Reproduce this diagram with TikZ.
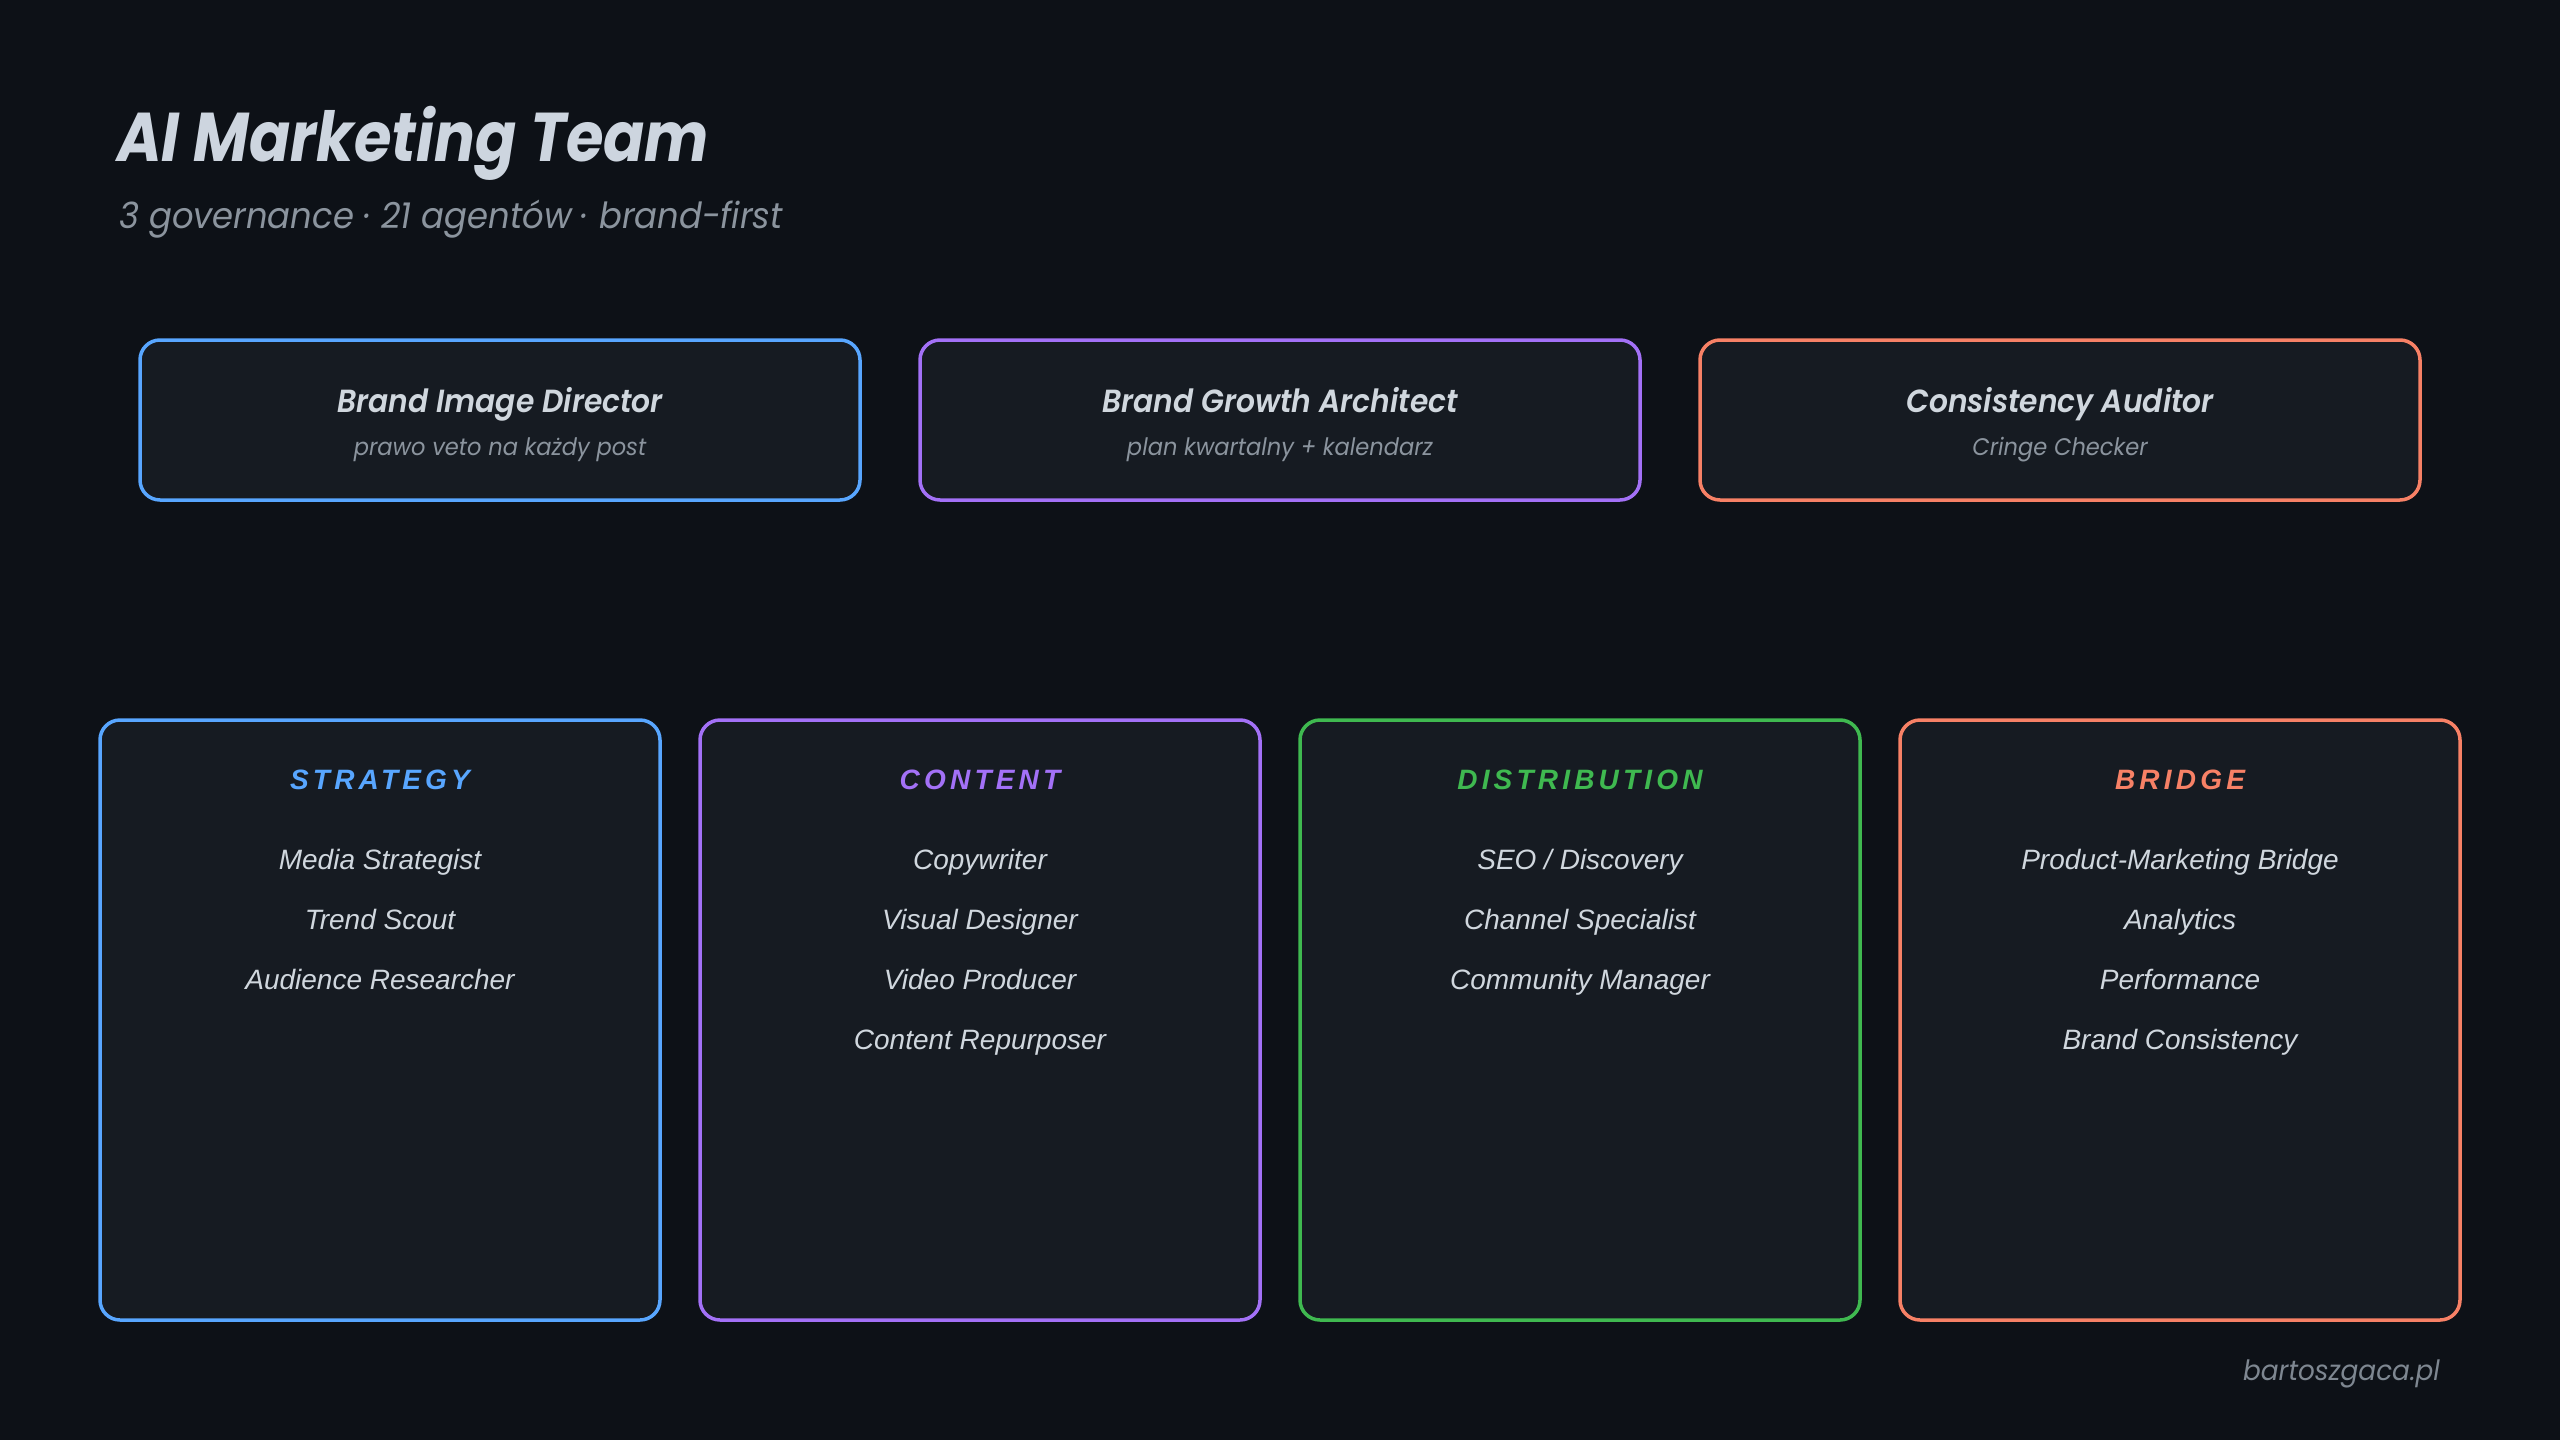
\documentclass[tikz,border=0pt]{standalone}
\usepackage{fontspec}
\setmainfont{Liberation Sans}
\newfontfamily\pop{Poppins}
\newfontfamily\poptitle{Poppins}[FakeStretch=0.88]
\newfontfamily\popsub{Poppins}[FakeStretch=0.94]
\newfontfamily\popsemi{Poppins}[UprightFont={* SemiBold},ItalicFont={* SemiBold Italic},FakeStretch=0.93]
\newfontfamily\spaced{Liberation Sans}[LetterSpace=15]
\definecolor{bg}{HTML}{0D1117}
\definecolor{boxc}{HTML}{161B22}
\definecolor{cblue}{HTML}{58A6FF}
\definecolor{cpurple}{HTML}{A371F7}
\definecolor{cgreen}{HTML}{3FB950}
\definecolor{corange}{HTML}{F78166}
\definecolor{titlec}{HTML}{CDD5DF}
\definecolor{lightc}{HTML}{D0D7DE}
\definecolor{grayc}{HTML}{8B949E}
\tikzset{
  gov/.style={draw=#1, line width=3.5pt, rounded corners=20pt, fill=boxc, minimum width=720pt, minimum height=160pt, inner sep=0pt},
  team/.style={draw=#1, line width=3.5pt, rounded corners=20pt, fill=boxc, minimum width=560pt, minimum height=600pt, inner sep=0pt},
  govtitle/.style={anchor=base, text=lightc, inner sep=0pt, font=\popsemi\itshape\fontsize{32}{38}\selectfont},
  govsub/.style={anchor=base, text=grayc, inner sep=0pt, font=\popsub\itshape\fontsize{24}{28}\selectfont},
  cat/.style={anchor=base, text=#1, inner sep=0pt, font=\spaced\bfseries\itshape\fontsize{28}{32}\selectfont},
  item/.style={anchor=base, text=lightc, inner sep=0pt, font=\itshape\fontsize{28}{32}\selectfont}
}
\begin{document}
\begin{tikzpicture}[x=1pt,y=-1pt]
\fill[bg] (0,0) rectangle (2560,1440);
\useasboundingbox (0,0) rectangle (2560,1440);
\node[anchor=base west, text=titlec, inner sep=0pt, font=\poptitle\bfseries\itshape\fontsize{69}{80}\selectfont] (title) at (117,161) {AI Marketing Team};
\node[anchor=base west, text=grayc, inner sep=0pt, font=\popsub\itshape\fontsize{36}{40}\selectfont] (subtitle) at (119,228) {3 governance · 21 agentów · brand-first};
% governance
\node[gov=cblue] (g1) at (500,420) {};
\node[gov=cpurple] (g2) at (1280,420) {};
\node[gov=corange] (g3) at (2060,420) {};
\node[govtitle] (g1t) at (500,412) {Brand Image Director};
\node[govsub] (g1s) at (500,455) {prawo veto na każdy post};
\node[govtitle] (g2t) at (1280,412) {Brand Growth Architect};
\node[govsub] (g2s) at (1280,455) {plan kwartalny + kalendarz};
\node[govtitle] (g3t) at (2060,412) {Consistency Auditor};
\node[govsub] (g3s) at (2060,455) {Cringe Checker};
% teams
\node[team=cblue] (t1) at (380,1020) {};
\node[team=cpurple] (t2) at (980,1020) {};
\node[team=cgreen] (t3) at (1580,1020) {};
\node[team=corange] (t4) at (2180,1020) {};
\node[cat=cblue] (c1) at (380,789) {STRATEGY};
\node[cat=cpurple] (c2) at (980,789) {CONTENT};
\node[cat=cgreen] (c3) at (1580,789) {DISTRIBUTION};
\node[cat=corange] (c4) at (2180,789) {BRIDGE};
\node[item] (a1) at (380,869) {Media Strategist};
\node[item] (a2) at (380,929) {Trend Scout};
\node[item] (a3) at (380,989) {Audience Researcher};
\node[item] (b1) at (980,869) {Copywriter};
\node[item] (b2) at (980,929) {Visual Designer};
\node[item] (b3) at (980,989) {Video Producer};
\node[item] (b4) at (980,1049) {Content Repurposer};
\node[item] (d1) at (1580,869) {SEO / Discovery};
\node[item] (d2) at (1580,929) {Channel Specialist};
\node[item] (d3) at (1580,989) {Community Manager};
\node[item] (e1) at (2180,869) {Product-Marketing Bridge};
\node[item] (e2) at (2180,929) {Analytics};
\node[item] (e3) at (2180,989) {Performance};
\node[item] (e4) at (2180,1049) {Brand Consistency};
\node[anchor=base east, text=grayc!90!bg, inner sep=0pt, font=\popsub\itshape\fontsize{28}{34}\selectfont] (footer) at (2440,1380) {bartoszgaca.pl};
\end{tikzpicture}
\end{document}
